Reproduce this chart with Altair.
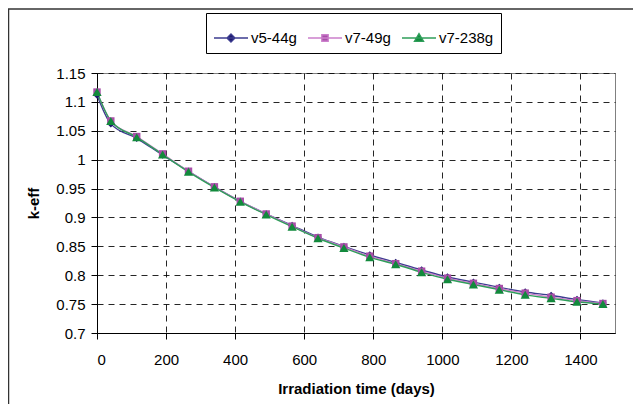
import altair as alt
import pandas as pd

# ---- data ----
days = [0, 40, 115, 190, 265, 340, 415, 490, 565, 640, 715, 790, 865, 940,
        1015, 1090, 1165, 1240, 1315, 1390, 1465]
v5_44g = [1.112, 1.062, 1.037, 1.008, 0.980, 0.953, 0.928, 0.906, 0.886, 0.866, 0.850,
          0.835, 0.822, 0.809, 0.797, 0.788, 0.779, 0.771, 0.765, 0.758, 0.752]
v7_49g = [1.117, 1.067, 1.040, 1.010, 0.980, 0.953, 0.928, 0.906, 0.885, 0.865, 0.849,
          0.833, 0.820, 0.807, 0.795, 0.786, 0.777, 0.769, 0.762, 0.756, 0.751]
v7_238g = [1.117, 1.067, 1.039, 1.009, 0.979, 0.952, 0.927, 0.905, 0.884, 0.864, 0.847,
           0.831, 0.819, 0.805, 0.793, 0.784, 0.775, 0.766, 0.760, 0.754, 0.750]
series_names = ["v5-44g", "v7-49g", "v7-238g"]
x_ticks = [0, 200, 400, 600, 800, 1000, 1200, 1400]
y_ticks = [0.70, 0.75, 0.80, 0.85, 0.90, 0.95, 1.00, 1.05, 1.10, 1.15]

line_colors = ["#3d3d90", "#cc80cc", "#2f9e5a"]
marker_colors = ["#1e1a6e", "#a84ea8", "#128a3c"]
marker_shapes = ["diamond", "square", "triangle-up"]
marker_sizes = [55, 55, 85]
legend_paths = [
    "M-1,0H1M0,-0.24L0.24,0L0,0.24L-0.24,0Z",
    "M-1,0H1M-0.19,-0.19H0.19V0.19H-0.19Z",
    "M-1,0H1M0,-0.26L0.27,0.2L-0.27,0.2Z",
]

rows = []
for name, vals in zip(series_names, [v5_44g, v7_49g, v7_238g]):
    for d, v in zip(days, vals):
        rows.append({"days": d, "keff": v, "series": name})
df = pd.DataFrame(rows)

FONT = "Liberation Sans"

x_enc = alt.X("days:Q", scale=alt.Scale(domain=[0, 1500], nice=False),
              axis=alt.Axis(values=x_ticks, title="Irradiation time (days)", format="d",
                            titleY=60, titleBaseline="alphabetic"))
y_enc = alt.Y("keff:Q", scale=alt.Scale(domain=[0.7, 1.15], nice=False, zero=False),
              axis=alt.Axis(values=y_ticks, title="k-eff",
                            labelExpr="format(datum.value, '.2~f')",
                            titleX=-64, titleY=130, titleAlign="center",
                            titleBaseline="middle"))

base = alt.Chart(df)
one = pd.DataFrame({"a": [0]})

frame_top = alt.Chart(one).mark_rule(stroke="#333333", strokeWidth=1.5).encode(
    x=alt.value(-89), x2=alt.value(536), y=alt.value(-64))
frame_left = alt.Chart(one).mark_rule(stroke="#333333", strokeWidth=1.5).encode(
    x=alt.value(-88.5), y=alt.value(-64), y2=alt.value(331))

lines = base.mark_line(interpolate="monotone", strokeWidth=1.4).encode(
    x=x_enc, y=y_enc,
    color=alt.Color("series:N", scale=alt.Scale(domain=series_names, range=line_colors),
                    legend=None),
)

marker_layers = []
for name, col, shp, sz in zip(series_names, marker_colors, marker_shapes, marker_sizes):
    marker_layers.append(
        base.transform_filter(alt.datum.series == name)
        .mark_point(shape=shp, filled=True, size=sz, color=col, opacity=1)
        .encode(x=x_enc, y=y_enc)
    )

def leg():
    return alt.Legend(title=None, orient="none", legendX=109, legendY=-60,
                      direction="horizontal", symbolSize=1156,
                      symbolOpacity=1, symbolStrokeWidth=1.3,
                      labelFontSize=15, labelFont=FONT, labelColor="black",
                      labelOffset=2, columnPadding=8, padding=7,
                      strokeColor="black", fillColor="white")

legend_layer = base.mark_point(filled=True, opacity=0).encode(
    x=x_enc, y=y_enc,
    fill=alt.Fill("series:N", scale=alt.Scale(domain=series_names, range=marker_colors),
                  legend=leg()),
    stroke=alt.Stroke("series:N", scale=alt.Scale(domain=series_names, range=line_colors),
                      legend=leg()),
    shape=alt.Shape("series:N", scale=alt.Scale(domain=series_names, range=legend_paths),
                    legend=leg()),
)

chart = alt.layer(frame_top, frame_left, lines, *marker_layers, legend_layer).resolve_scale(
    color="independent"
).properties(
    width=518, height=260,
    padding={"left": 89, "top": 65, "right": 18, "bottom": 71},
    autosize=alt.AutoSizeParams(type="none"),
    background="#ffffff00",
).configure_view(
    stroke="#808080", strokeWidth=1
).configure_axis(
    labelFont=FONT, labelFontSize=15, labelColor="black",
    titleFont=FONT, titleFontSize=15, titleFontWeight="bold", titleColor="black",
    domainColor="black", domainWidth=1, tickColor="black", tickSize=6, tickWidth=1,
    gridColor="black", gridDash=[6, 5], gridWidth=1, gridOpacity=0.85,
).configure_axisX(
    labelPadding=13,
).configure_axisY(
    labelPadding=6,
)

chart.save("out.html", embed_options={"renderer": "svg", "actions": False})
